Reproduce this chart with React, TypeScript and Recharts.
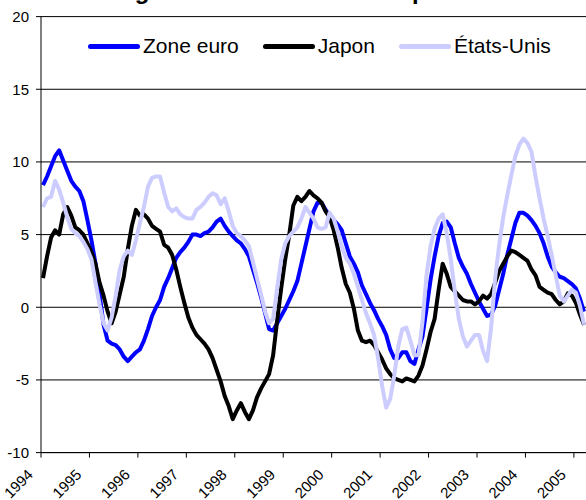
import React from 'react';
import { LineChart, Line, XAxis, YAxis, CartesianGrid } from 'recharts';

const yearLabels = ['1994', '1995', '1996', '1997', '1998', '1999', '2000', '2001', '2002', '2003', '2004', '2005'];
const yTicks = [-10, -5, 0, 5, 10, 15, 20];
const seriesNames = ['Zone euro', 'Japon', 'États-Unis'];
const titleText = 'Le glissement annuel de la production';

const zoneEuro = [
  8.4, 9.0, 9.7, 10.4, 10.8, 10.1, 9.4, 8.7, 8.3, 8.0, 7.3, 6.0,
  4.6, 3.0, 0.9, -1.2, -2.3, -2.5, -2.6, -2.9, -3.4, -3.7, -3.4, -3.1,
  -2.9, -2.3, -1.5, -0.6, 0.0, 0.5, 1.4, 2.0, 2.7, 3.4, 3.8, 4.1,
  4.5, 5.0, 5.0, 4.9, 5.1, 5.2, 5.5, 5.9, 6.1, 5.6, 5.2, 4.9,
  4.6, 4.4, 4.0, 3.5, 2.6, 1.7, 0.7, -0.4, -1.5, -1.6, -1.1, -0.6,
  -0.1, 0.5, 1.1, 1.8, 3.0, 4.2, 5.4, 6.6, 7.2, 7.2, 6.7, 6.3,
  6.0, 5.7, 5.3, 4.4, 3.5, 3.0, 2.4, 1.5, 0.9, 0.3, -0.2, -0.8,
  -1.3, -1.9, -2.9, -3.5, -3.5, -3.1, -3.1, -3.7, -3.9, -2.9, -2.0, -0.1,
  1.9, 3.5, 4.9, 5.8, 5.9, 5.5, 4.4, 3.4, 2.8, 2.3, 1.6, 1.0,
  0.4, -0.1, -0.6, -0.5, 0.1, 1.2, 2.3, 3.6, 4.7, 5.8, 6.5, 6.5,
  6.3, 6.0, 5.6, 5.1, 4.4, 3.5, 2.8, 2.4, 2.1, 2.0, 1.8, 1.6,
  1.3, 0.6, -0.3,
];

const japon = [
  2.0, 3.5, 4.8, 5.3, 5.0, 6.4, 6.9, 6.3, 5.5, 5.3, 5.0, 4.4,
  3.8, 3.0, 1.7, 0.8, -0.3, -1.1, -0.3, 0.9, 2.1, 4.0, 5.6, 6.7,
  6.3, 6.4, 6.1, 5.6, 5.4, 5.2, 4.3, 4.1, 3.6, 2.6, 1.4, 0.3,
  -0.7, -1.4, -1.9, -2.2, -2.5, -2.9, -3.5, -4.3, -5.1, -6.1, -6.8, -7.7,
  -7.1, -6.6, -7.2, -7.7, -7.1, -6.2, -5.6, -5.1, -4.6, -3.3, -0.9, 1.3,
  3.3, 5.0, 7.0, 7.6, 7.3, 7.6, 8.0, 7.7, 7.5, 7.2, 6.6, 6.2,
  5.3, 4.1, 2.7, 1.6, 1.0, -0.1, -1.6, -2.3, -2.4, -2.3, -2.6, -3.1,
  -3.6, -4.2, -4.6, -4.9, -5.0, -5.1, -4.9, -5.0, -5.1, -4.7, -4.0, -2.9,
  -1.7, -0.8, 1.2, 3.0, 2.3, 1.4, 1.1, 0.8, 0.5, 0.4, 0.4, 0.2,
  0.4, 0.8, 0.6, 0.9, 1.7, 2.5, 3.0, 3.5, 3.9, 3.8, 3.6, 3.4,
  3.2, 2.6, 2.2, 1.4, 1.2, 1.0, 0.9, 0.5, 0.2, 0.4, 0.95, 0.8,
  0.3, -0.5, -1.2,
];

const etatsUnis = [
  6.9, 7.5, 7.6, 8.7, 8.1, 7.2, 6.2, 5.4, 5.1, 4.9, 4.5, 4.0,
  3.3, 1.7, 0.2, -1.1, -1.6, -0.7, 0.8, 2.6, 3.5, 3.9, 3.6, 4.6,
  5.8, 6.9, 8.3, 8.9, 9.0, 9.0, 7.9, 6.9, 6.6, 6.8, 6.4, 6.2,
  6.1, 6.1, 6.7, 6.9, 7.2, 7.6, 7.85, 7.7, 7.1, 7.5, 6.6, 5.6,
  5.1, 4.9, 4.6, 4.2, 3.1, 2.0, 0.9, -0.3, -1.1, -0.8, 1.3, 3.3,
  4.4, 4.9, 5.2, 5.5, 6.1, 6.9, 6.5, 6.1, 5.5, 5.4, 5.5, 6.5,
  6.1, 5.2, 4.2, 3.4, 3.0, 2.3, 1.4, 0.5, -0.4, -1.1, -1.9, -3.5,
  -5.4, -6.9, -6.3, -4.7, -2.7, -1.5, -1.4, -2.3, -3.3, -3.3, -1.0, 2.2,
  4.2, 5.4, 6.1, 6.4, 5.1, 3.3, 1.1, -0.8, -2.0, -2.7, -2.3, -1.9,
  -1.9, -3.0, -3.7, -1.4, 2.0, 4.3, 6.2, 7.7, 9.1, 10.4, 11.2, 11.6,
  11.3, 10.7, 9.0, 7.5, 6.1, 4.9, 3.6, 2.2, 0.8, 0.4, 0.8, 1.2,
  1.0, 0.1, -1.2,
];

const colors = ['#0000FF', '#000000', '#CCCCFF'];

const data = zoneEuro.map((v, i) => ({
  t: i + 0.5,
  euro: v,
  japon: japon[i],
  us: etatsUnis[i],
}));

const xTicks = yearLabels.map((_, i) => i * 12);
const FONT = '"Liberation Sans", Arial, sans-serif';

const XTick = (props: any) => {
  const { x, y, payload } = props;
  const label = yearLabels[Math.round(payload.value / 12)];
  return (
    <g transform={`translate(${x - 7},${y + 16})`}>
      <text x={0} y={0} transform="rotate(-45)" textAnchor="end" fontSize={15} fontFamily={FONT} fill="#000">
        {label}
      </text>
    </g>
  );
};

const LegendBox = () => (
  <div style={{ position: 'absolute', top: 34, left: 88, display: 'flex', alignItems: 'center', fontFamily: FONT, fontSize: 21, lineHeight: '24px', color: '#000', pointerEvents: 'none' }}>
    {seriesNames.map((name, i) => (
      <div key={name} style={{ display: 'flex', alignItems: 'center', marginLeft: i === 0 ? 0 : 24 }}>
        <span style={{ display: 'inline-block', width: 52, height: 5, background: colors[i], borderRadius: 3 }} />
        <span style={{ marginLeft: 3, whiteSpace: 'nowrap' }}>{name}</span>
      </div>
    ))}
  </div>
);

export default function App() {
  return (
    <div style={{ position: 'absolute', left: 0, top: 0, width: 586, height: 500, overflow: 'hidden', background: '#fff' }}>
      <LineChart width={586} height={500} data={data} margin={{ top: 16.6, right: 0, bottom: 0, left: 0 }}>
        <CartesianGrid horizontal vertical={false} stroke="#000" strokeWidth={1} />
        <XAxis
          type="number"
          dataKey="t"
          domain={[0, 135]}
          ticks={xTicks}
          interval={0}
          height={47.4}
          stroke="#000"
          tickSize={5}
          tickMargin={2}
          tick={<XTick />}
          allowDataOverflow
        />
        <YAxis
          type="number"
          domain={[-10, 20]}
          ticks={yTicks}
          interval={0}
          width={41}
          stroke="#000"
          tickSize={5}
          tickMargin={7}
          tick={{ fontSize: 15, fontFamily: FONT, fill: '#000' }}
        />
        <Line type="linear" dataKey="euro" name={seriesNames[0]} stroke={colors[0]} strokeWidth={4} dot={false} isAnimationActive={false} strokeLinejoin="round" />
        <Line type="linear" dataKey="japon" name={seriesNames[1]} stroke={colors[1]} strokeWidth={4} dot={false} isAnimationActive={false} strokeLinejoin="round" />
        <Line type="linear" dataKey="us" name={seriesNames[2]} stroke={colors[2]} strokeWidth={4} dot={false} isAnimationActive={false} strokeLinejoin="round" />
      </LineChart>
      <LegendBox />
      <svg width={586} height={20} style={{ position: 'absolute', left: 0, top: 0, pointerEvents: 'none' }}>
        <text x={100} y={-1} fontSize={24} fontWeight="bold" fontFamily={FONT} fill="#000">{titleText}</text>
      </svg>
    </div>
  );
}
